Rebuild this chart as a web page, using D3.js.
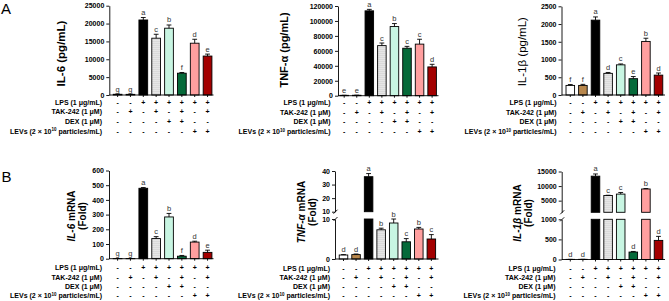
<!DOCTYPE html>
<html><head><meta charset="utf-8">
<script src="https://cdn.jsdelivr.net/npm/d3@7"></script>
<style>
body{margin:0;background:#fff}
svg{display:block}
text{font-family:"Liberation Sans",Arial,sans-serif}
</style>
</head><body>
<svg id="c" width="669" height="301"></svg>
<script>
// ---- treatment table ----
const rowLabels = ["LPS (1 μg/mL)", "TAK-242 (1 μM)", "DEX (1 μM)", "LEVs"];
const lpsSigns = ["-","-","+","+","+","+","+","+"];
const takSigns = ["-","+","-","+","-","+","-","+"];
const dexSigns = ["-","-","-","-","+","+","-","-"];
const levSigns = ["-","-","-","-","-","-","+","+"];

// ---- A: protein (ELISA) ----
const il6Protein       = [200, 180, 21000, 15900, 18700, 6100, 14500, 10900];
const il6ProteinErr    = [50, 50, 700, 1100, 900, 200, 1100, 550];
const il6ProteinLetters= ["g","g","a","c","b","f","d","e"];
const il6ProteinTicks  = [0,5000,10000,15000,20000,25000];

const tnfProtein       = [500, 600, 113500, 67000, 92500, 63500, 69000, 38500];
const tnfProteinErr    = [100, 100, 2000, 3500, 4000, 2500, 6500, 3500];
const tnfProteinLetters= ["e","e","a","c","b","c","c","d"];
const tnfProteinTicks  = [0,20000,40000,60000,80000,100000,120000];

const il1bProtein       = [270, 270, 2110, 610, 850, 460, 1510, 560];
const il1bProteinErr    = [25, 30, 90, 25, 25, 60, 90, 60];
const il1bProteinLetters= ["f","f","a","d","c","e","b","d"];
const il1bProteinTicks  = [0,500,1000,1500,2000,2500];

// ---- B: mRNA (fold) ----
const il6Mrna        = [1, 1, 479, 137, 284, 17, 113, 43];
const il6MrnaErr     = [0.5, 0.5, 5, 13, 24, 5, 6, 15];
const il6MrnaLetters = ["g","g","a","c","b","f","d","e"];
const il6MrnaTicks   = [0,100,200,300,400,500,600];

const tnfMrna        = [1, 1.1, 35.8, 7.3, 9.0, 4.3, 7.5, 5.0];
const tnfMrnaErr     = [0.1, 0.15, 2.3, 0.4, 1.0, 0.8, 0.4, 1.1];
const tnfMrnaLetters = ["d","d","a","b","b","c","b","c"];
const tnfMrnaTicksLow  = [0,10];
const tnfMrnaTicksHigh = [10,20,30,40];

const il1bMrna        = [3, 4, 13400, 6750, 7250, 185, 9000, 475];
const il1bMrnaErr     = [1, 1, 750, 100, 550, 15, 150, 100];
const il1bMrnaLetters = ["d","d","a","c","c","d","b","d"];
const il1bMrnaTicksLow  = [0,500,1000];
const il1bMrnaTicksHigh = [5000,10000,15000];

// ---- styles ----
const barFills = ["#ffffff","#b8874c","#000000","url(#dots)","#c8f5e2","#066a3a","#ff9f9f","#a30000"];
const FONT = '"Liberation Sans",Arial,sans-serif';

const svg = d3.select("#c");
const defs = svg.append("defs");
const pat = defs.append("pattern").attr("id","dots").attr("patternUnits","userSpaceOnUse")
  .attr("width",2).attr("height",2);
pat.append("rect").attr("width",2).attr("height",2).attr("fill","#fff");
pat.append("circle").attr("cx",1).attr("cy",1).attr("r",0.6).attr("fill","#777");

const signRows = [lpsSigns, takSigns, dexSigns, levSigns];

function panel(o){
  const g = svg.append("g");
  const x = d3.scaleBand().domain(d3.range(8))
    .range([o.c0 - o.step/2, o.c0 + 7.5*o.step]).paddingInner(0.32).paddingOuter(0.16);
  const scales = o.segs.map(s => d3.scaleLinear().domain([s.lo, s.hi]).range([s.y0, s.y1]));
  const yZero = scales[0](0);

  // bars
  o.values.forEach((v,i)=>{
    o.segs.forEach((s,k)=>{
      if (v <= s.lo) return;
      const top = scales[k](Math.min(v, s.hi));
      const bot = scales[k](s.lo);
      g.append("rect").attr("x", x(i)).attr("width", x.bandwidth())
        .attr("y", top).attr("height", Math.max(0, bot-top))
        .attr("fill", barFills[i]).attr("stroke","#000").attr("stroke-width",0.9);
    });
    // error bar + letter
    const e = v + o.errs[i];
    let k = o.segs.findIndex(s => v <= s.hi && v >= s.lo);
    if (k < 0) k = o.segs.length-1;
    const ky = o.segs.findIndex(s => e <= s.hi && e >= s.lo);
    const kk = ky < 0 ? o.segs.length-1 : ky;
    const yv = scales[k](v), ye = scales[kk](e);
    const cx = x(i) + x.bandwidth()/2;
    g.append("line").attr("x1",cx).attr("x2",cx).attr("y1",yv).attr("y2",ye)
      .attr("stroke","#000").attr("stroke-width",0.9);
    g.append("line").attr("x1",cx-2.4).attr("x2",cx+2.4).attr("y1",ye).attr("y2",ye)
      .attr("stroke","#000").attr("stroke-width",0.9);
    g.append("text").attr("x",cx).attr("y",ye-2.5).attr("text-anchor","middle")
      .attr("font-size",7.5).attr("fill","#333").text(o.letters[i]);
  });

  // y axes
  o.segs.forEach((s,k)=>{
    const ax = d3.axisLeft(scales[k]).tickValues(s.ticks).tickSize(3).tickSizeOuter(0).tickPadding(2)
      .tickFormat(d3.format("d"));
    const ag = g.append("g").attr("transform",`translate(${o.ax},0)`).call(ax);
    ag.selectAll("text").attr("font-size",7).attr("font-weight","bold").attr("font-family",FONT).attr("fill","#000");
    ag.selectAll("line,path").attr("stroke","#000").attr("stroke-width",0.9);
  });
  // break marks
  if (o.segs.length > 1){
    const yb1 = scales[0].range()[1], yb2 = scales[1].range()[0];
    [yb1, yb2].forEach(yy=>{
      g.append("line").attr("x1",o.ax-1.5).attr("x2",o.ax+2.5).attr("y1",yy+2).attr("y2",yy-2)
        .attr("stroke","#000").attr("stroke-width",0.9);
    });
  }
  // x axis line and ticks
  g.append("line").attr("x1",o.ax).attr("x2",o.xEnd).attr("y1",yZero).attr("y2",yZero)
    .attr("stroke","#000").attr("stroke-width",0.9);
  d3.range(8).forEach(i=>{
    const cx = x(i)+x.bandwidth()/2;
    g.append("line").attr("x1",cx).attr("x2",cx).attr("y1",yZero).attr("y2",yZero+2)
      .attr("stroke","#000").attr("stroke-width",0.9);
  });

  // y title
  const t = g.append("text").attr("transform",`translate(${o.tx},${o.ty}) rotate(-90)`)
    .attr("text-anchor","middle").attr("font-size",o.tsize).attr("font-weight",o.tweight);
  o.title(t);

  // table
  signRows.forEach((row,r)=>{
    const yy = o.row0 + r*o.rowStep;
    const lab = g.append("text").attr("x",o.labelX).attr("y",yy+2.5).attr("text-anchor","end")
      .attr("font-size",7).attr("font-weight","bold");
    if (r===3){
      lab.append("tspan").text("LEVs (2 × 10");
      lab.append("tspan").attr("font-size",4.5).attr("dy",-2.5).text("10");
      lab.append("tspan").attr("dy",2.5).text(" particles/mL)");
    } else lab.text(rowLabels[r]);
    row.forEach((sg,i)=>{
      g.append("text").attr("x", x(i)+x.bandwidth()/2).attr("y",yy+2.5).attr("text-anchor","middle")
        .attr("font-size",7).attr("font-weight","bold").text(sg);
    });
  });
}

function lines(arr){ // arr of [ [ {t, italic} ] per line ], offsets
  return function(t){
    arr.forEach((ln,li)=>{
      ln.parts.forEach((p,pi)=>{
        const ts = t.append("tspan").text(p.t);
        if (p.it) ts.attr("font-style","italic");
        if (pi===0){ ts.attr("x",0).attr("y",ln.y); }
      });
    });
  };
}

// A panels
panel({values:il6Protein, errs:il6ProteinErr, letters:il6ProteinLetters,
  ax:109.3, c0:117.6, step:12.85, xEnd:213.5,
  segs:[{lo:0,hi:25000,y0:95,y1:5.7,ticks:il6ProteinTicks}],
  row0:102.2, rowStep:9.75, labelX:102,
  tx:61, ty:53.5, tsize:11.5, tweight:"bold",
  title: lines([{y:4, parts:[{t:"IL-6 (pg/mL)"}]}])});

panel({values:tnfProtein, errs:tnfProteinErr, letters:tnfProteinLetters,
  ax:338, c0:344.2, step:12.56, xEnd:438.5,
  segs:[{lo:0,hi:120000,y0:95.7,y1:6,ticks:tnfProteinTicks}],
  row0:102.7, rowStep:9.6, labelX:330.5,
  tx:284, ty:50, tsize:11, tweight:"bold",
  title: lines([{y:4, parts:[{t:"TNF-α (pg/mL)"}]}])});

panel({values:il1bProtein, errs:il1bProteinErr, letters:il1bProteinLetters,
  ax:561.5, c0:570.3, step:12.6, xEnd:665,
  segs:[{lo:0,hi:2500,y0:95,y1:6.3,ticks:il1bProteinTicks}],
  row0:102.5, rowStep:9.7, labelX:556.5,
  tx:522, ty:51.7, tsize:11.5, tweight:"normal",
  title: lines([{y:4, parts:[{t:"IL-1β (pg/mL)"}]}])});

// B panels
panel({values:il6Mrna, errs:il6MrnaErr, letters:il6MrnaLetters,
  ax:109, c0:117.6, step:12.85, xEnd:213.5,
  segs:[{lo:0,hi:600,y0:258.7,y1:170.5,ticks:il6MrnaTicks}],
  row0:267.8, rowStep:9.3, labelX:102,
  tx:76.5, ty:216, tsize:10, tweight:"bold",
  title: lines([{y:-2, parts:[{t:"IL-6",it:true},{t:" mRNA"}]},{y:9.5, parts:[{t:"(Fold)"}]}])});

panel({values:tnfMrna, errs:tnfMrnaErr, letters:tnfMrnaLetters,
  ax:335, c0:343.5, step:12.55, xEnd:438.5,
  segs:[{lo:0,hi:10,y0:259,y1:219,ticks:tnfMrnaTicksLow},{lo:10,hi:40,y0:211.7,y1:171,ticks:tnfMrnaTicksHigh}],
  row0:268.2, rowStep:9.2, labelX:330,
  tx:306.5, ty:212, tsize:10, tweight:"bold",
  title: lines([{y:-2, parts:[{t:"TNF-",it:true},{t:"α",it:true},{t:" mRNA"}]},{y:9.5, parts:[{t:"(Fold)"}]}])});

panel({values:il1bMrna, errs:il1bMrnaErr, letters:il1bMrnaLetters,
  ax:561.7, c0:570.3, step:12.6, xEnd:665,
  segs:[{lo:0,hi:1000,y0:259.5,y1:219.3,ticks:il1bMrnaTicksLow},{lo:1000,hi:15000,y0:212.3,y1:171.5,ticks:il1bMrnaTicksHigh}],
  row0:268.2, rowStep:9.2, labelX:555.5,
  tx:522.5, ty:213, tsize:10, tweight:"bold",
  title: lines([{y:-2, parts:[{t:"IL-1β",it:true},{t:" mRNA"}]},{y:9.5, parts:[{t:"(Fold)"}]}])});

// panel letters
svg.append("text").attr("x",1).attr("y",14).attr("font-size",15).text("A");
svg.append("text").attr("x",1.5).attr("y",182).attr("font-size",15).text("B");
</script>
</body></html>
